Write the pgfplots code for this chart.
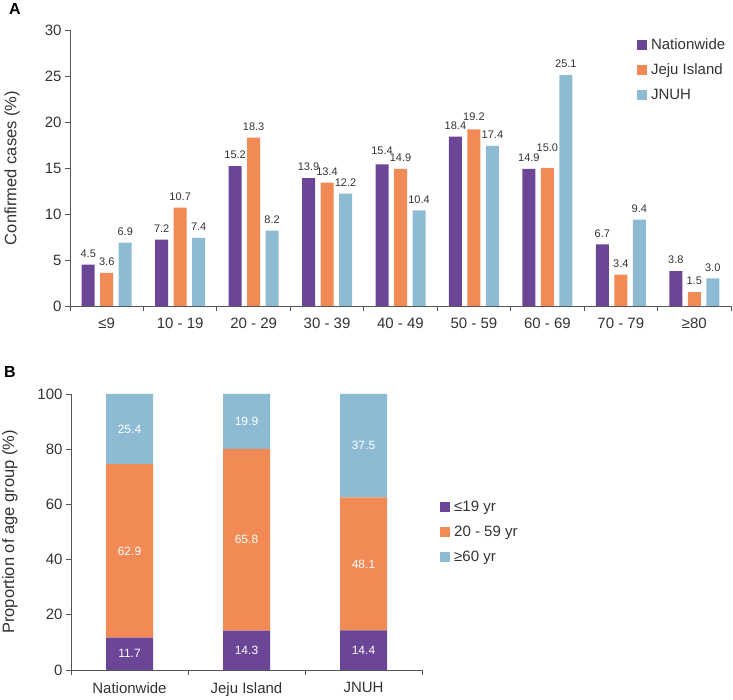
\documentclass[border=0pt]{standalone}
\usepackage{pgfplots}
\pgfplotsset{compat=1.18}
\usepackage{fontspec}
\setmainfont{Liberation Sans}
\definecolor{cpur}{RGB}{107,69,150}
\definecolor{cora}{RGB}{241,138,84}
\definecolor{cblu}{RGB}{141,187,212}
\definecolor{axgray}{RGB}{85,85,85}
\definecolor{txt}{RGB}{51,51,51}
\pgfplotsset{
  common/.style={
    scale only axis,
    axis x line*=bottom, axis y line*=left,
    axis line style={axgray, line width=0.8pt},
    tick style={axgray, line width=0.8pt},
    tick align=outside,
    major tick length=5pt,
    /pgf/number format/assume math mode=true,
    tick label style={font=\fontsize{15}{18}\selectfont, text=txt},
    xticklabel style={yshift=-4pt},
    label style={font=\fontsize{16.5}{20}\selectfont, text=txt},
    legend style={draw=none, fill=none, font=\fontsize{15}{18}\selectfont, text=txt},
    legend cell align=left,
  },
  sqlegend/.style={
    legend image code/.code={\fill[##1] (0pt,-5pt) rectangle (10pt,5pt); \path (12pt,0pt);},
  }
}
\pgfplotstableread{
x nat dn jeju dj jnuh dh
0 4.5  0 3.6  0 6.9  0
1 7.2  0 10.7 0 7.4  0
2 15.2 0 18.3 0 8.2  0
3 13.9 0 13.4 0 12.2 0
4 15.4 3 14.9 0 10.4 0
5 18.4 0 19.2 2 17.4 0
6 14.9 0 15.0 9 25.1 0
7 6.7  0 3.4  0 9.4  0
8 3.8  0 1.5  0 3.0  0
}\dataA
\begin{document}
\begin{tikzpicture}
\useasboundingbox (0pt,0pt) rectangle (733pt,700pt);
% ---------- Panel A ----------
\begin{axis}[common, at={(70pt,394pt)}, anchor=south west, width=661pt, height=276pt,
  ybar=5.5pt, bar width=13pt, sqlegend,
  xmin=-0.5, xmax=8.5, ymin=0, ymax=30, ytick={0,5,...,30},
  xtick={-0.5,0.5,...,8.5}, x tick label as interval,
  xticklabels={≤9,10 - 19,20 - 29,30 - 39,40 - 49,50 - 59,60 - 69,70 - 79,≥80},
  ylabel={Confirmed cases (\%)},
  y label style={at={(axis description cs:-0.0877,0.5)}, anchor=center},
  nodes near coords={\pgfmathprintnumber[fixed,fixed zerofill,precision=1]{\pgfplotspointmeta}},
  every node near coord/.append style={font=\fontsize{11}{12}\selectfont, text=txt, inner sep=2pt, yshift=5pt+\dy pt},
  legend style={at={(rel axis cs:0.853,0.985)}, anchor=north west, row sep=9pt},
]
\addplot[fill=cpur, draw=none, visualization depends on={\thisrow{dn} \as \dy}] table[x=x, y=nat] {\dataA};
\addplot[fill=cora, draw=none, visualization depends on={\thisrow{dj} \as \dy}] table[x=x, y=jeju] {\dataA};
\addplot[fill=cblu, draw=none, visualization depends on={\thisrow{dh} \as \dy}] table[x=x, y=jnuh] {\dataA};
\legend{Nationwide, Jeju Island, JNUH}
\end{axis}
% ---------- Panel B ----------
\begin{axis}[common, at={(71pt,30pt)}, anchor=south west, width=351pt, height=276pt,
  ybar stacked, bar width=47pt, sqlegend,
  xmin=-0.5, xmax=2.5, ymin=0, ymax=100, ytick={0,20,...,100},
  xtick={-0.5,0.5,1.5,2.5}, x tick label as interval,
  xticklabels={Nationwide,Jeju Island,JNUH},
  ylabel={Proportion of age group (\%)},
  y label style={at={(axis description cs:-0.174,0.5)}, anchor=center},
  legend style={at={(axis description cs:1,0.5)}, anchor=west, xshift=15pt, row sep=9pt},
]
\addplot[fill=cpur, draw=none] coordinates {(0,11.7) (1,14.3) (2,14.4)};
\addplot[fill=cora, draw=none] coordinates {(0,62.9) (1,65.8) (2,48.1)};
\addplot[fill=cblu, draw=none] coordinates {(0,25.4) (1,19.9) (2,37.5)};
\legend{≤19 yr, 20 - 59 yr, ≥60 yr}
\end{axis}
\begin{axis}[at={(71pt,30pt)}, anchor=south west, scale only axis, width=351pt, height=276pt,
  xmin=-0.5, xmax=2.5, ymin=0, ymax=100, axis lines=none, ticks=none]
\addplot[only marks, mark=*, mark options={opacity=0},
  nodes near coords, point meta=explicit symbolic,
  every node near coord/.style={anchor=center, font=\fontsize{12}{14}\selectfont, text=white, opacity=1}]
  table[meta=lab] {
x y lab
0 5.85 11.7
0 43.15 62.9
0 87.3 25.4
1 7.15 14.3
1 47.2 65.8
1 90.05 19.9
2 7.2 14.4
2 38.45 48.1
2 81.25 37.5
};
\end{axis}
\node[font=\fontsize{16}{18}\selectfont\bfseries, text=black] at (15pt,691pt) {A};
\node[font=\fontsize{16}{18}\selectfont\bfseries, text=black] at (10pt,328pt) {B};
\end{tikzpicture}
\end{document}
